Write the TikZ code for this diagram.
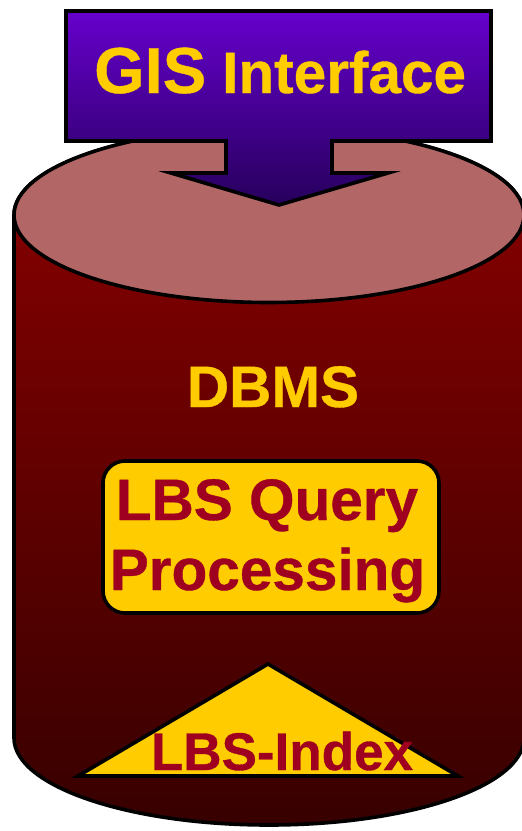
\documentclass[tikz,border=0pt]{standalone}
\usepackage{fontspec}
\setmainfont{Liberation Sans}[BoldFeatures={FakeBold=0.6}]
\definecolor{lbsyellow}{HTML}{FFCC00}
\definecolor{lbsred}{HTML}{A00020}
\definecolor{lidcol}{HTML}{B26666}
\definecolor{bodytop}{HTML}{8C0000}
\definecolor{bodybot}{HTML}{370000}
\definecolor{calltop}{HTML}{6600CC}
\definecolor{callbot}{HTML}{26005C}
\tikzset{
  outline/.style={draw=black,line width=3.6pt,miter limit=10},
  yellowlabel/.style={text=lbsyellow,font=\bfseries,inner sep=0pt},
  redlabel/.style={text=lbsred,font=\bfseries,inner sep=0pt},
}
\begin{document}
\begin{tikzpicture}[x=1pt,y=-1pt]
\useasboundingbox (0,0) rectangle (522,831);
% cylinder body
\path[outline,top color=bodytop,bottom color=bodybot]
  (14,215) -- (14,738) arc[start angle=180,end angle=0,x radius=255,y radius=87] -- (524,215)
  arc[start angle=0,end angle=-180,x radius=255,y radius=87] -- cycle;
% lid
\path[outline,fill=lidcol] (269,215) ellipse[x radius=255,y radius=87.5];
% callout arrow
\path[outline,top color=calltop,bottom color=callbot]
  (66,11) -- (491,11) -- (491,141) -- (332,141) -- (332,173) -- (388,173) -- (279,205)
  -- (171,173) -- (226,173) -- (226,141) -- (66,141) -- cycle;
\node[yellowlabel,anchor=base west] (gis) at (94,93) {\fontsize{65}{65}\selectfont GIS};
\node[yellowlabel,anchor=base west] (iface) at (222,93) {\fontsize{58.5}{58.5}\selectfont Interface};
\node[yellowlabel,anchor=base] (dbms) at (273,407) {\fontsize{58.5}{58.5}\selectfont DBMS};
% query box
\draw[outline,fill=lbsyellow,rounded corners=22pt] (103,461) rectangle (439,613);
\node[redlabel,anchor=base] (q1) at (267,520) {\fontsize{58.5}{58.5}\selectfont LBS Query};
\node[redlabel,anchor=base] (q2) at (267.5,590) {\fontsize{58.5}{58.5}\selectfont Processing};
% index triangle
\path[outline,fill=lbsyellow] (268,664) -- (458,776) -- (78,776) -- cycle;
\node[redlabel,anchor=base] (idx) at (282,770) {\fontsize{53}{53}\selectfont LBS-Index};
\end{tikzpicture}
\end{document}
